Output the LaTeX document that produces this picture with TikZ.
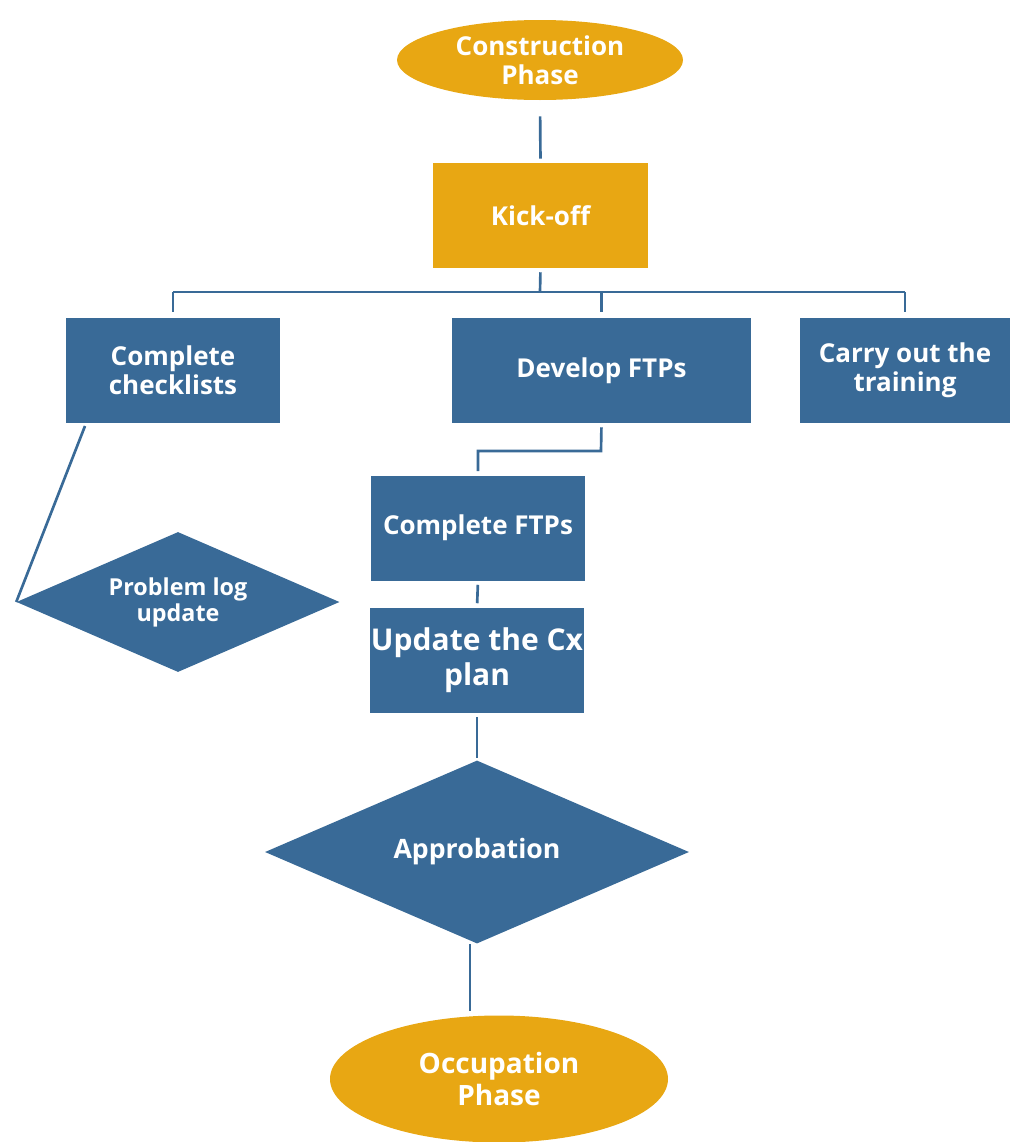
\documentclass[tikz,border=0pt]{standalone}
\usepackage{fontspec}
\setmainfont{Open Sans}
\usetikzlibrary{shapes.geometric}
\definecolor{cxorange}{HTML}{E8A713}
\definecolor{cxblue}{HTML}{396A97}
\begin{document}
\begin{tikzpicture}[x=0.75pt, y=-0.75pt,
  link/.style={draw=cxblue, line width=2pt},
  box/.style={rectangle, fill=cxblue, text=white, font=\bfseries\fontsize{19.5}{22}\selectfont,
    align=center, inner sep=1pt, minimum width=160.5pt, minimum height=78.75pt},
  phase/.style={ellipse, fill=cxorange, text=white, font=\bfseries\fontsize{19.5}{22}\selectfont,
    align=center, inner sep=0pt},
  decision/.style={diamond, fill=cxblue, text=white, font=\bfseries\fontsize{20}{22}\selectfont,
    align=center, inner sep=0pt, shape aspect=2.3}]
  \useasboundingbox (0,0) rectangle (1010,1142);
  % phases
  \node[phase, minimum width=214.5pt, minimum height=60pt] (cons) at (540,60) {Construction\\Phase};
  \node[phase, minimum width=253.5pt, minimum height=95.25pt,
    font=\bfseries\fontsize{21}{24}\selectfont] (occ) at (499,1079) {Occupation\\Phase};
  % boxes
  \node[box, fill=cxorange, minimum width=161.25pt] (kick) at (540.5,215.5) {Kick-off};
  \node[box] (chk) at (173,370.5) {Complete\\checklists};
  \node[box, minimum width=224.25pt] (dev) at (601.5,370.5) {Develop FTPs};
  \node[box, minimum width=157.5pt] (train) at (905,370.5) {Carry out the\\training};
  \node[box] (cftp) at (478,528) {Complete FTPs};
  \node[box, font=\bfseries\fontsize{22.5}{26.25}\selectfont] (plan) at (477,660) {Update the Cx\\plan};
  % decisions
  \node[decision, minimum width=242.25pt, minimum height=105pt,
    font=\bfseries\fontsize{17.5}{19.5}\selectfont] (log) at (178,602) {Problem log\\update};
  \node[decision, minimum width=318pt, minimum height=137.25pt] (appr) at (477,852) {Approbation};
  % junctions
  \coordinate (j1) at (540,292);
  \coordinate (j2) at (601,451);
  \coordinate (j3) at (85,426);
  \coordinate (j4) at (470,944);
  % links
  \draw[link, shorten <=12pt, shorten >=3pt] (cons.south) -- (kick.north);
  \draw[link, shorten <=3pt] (kick.south) -- (j1);
  \draw[link] (chk.north |- j1) -- (train.north |- j1);
  \draw[link, shorten >=4pt] (chk.north |- j1) -- (chk.north);
  \draw[link, shorten >=4pt] (dev.north |- j1) -- (dev.north);
  \draw[link, shorten >=4pt] (train.north |- j1) -- (train.north);
  \draw[link, shorten <=3pt, shorten >=3pt] (dev.south) -- (j2) -| (cftp.north);
  \draw[link, shorten <=3pt, shorten >=3pt] (cftp.south) -- (plan.north);
  \draw[link, shorten <=3pt, shorten >=2pt] (plan.south) -- (appr.north);
  \draw[link] (j3) -- (log.west);
  \draw[link, shorten >=3pt] (j4) -- (j4 |- occ.north);
\end{tikzpicture}
\end{document}
